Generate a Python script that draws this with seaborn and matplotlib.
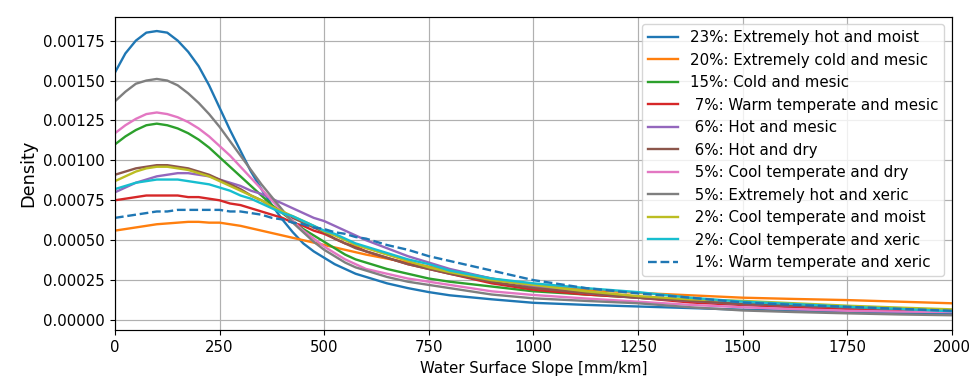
"""
Water surface slope density by climate class
"""

import pandas as pd
import seaborn as sns
import matplotlib.pyplot as plt

# Data

slope = [0, 25, 50, 75, 100, 125, 150, 175, 200, 225, 250, 275, 300, 325, 350, 375, 400,
         425, 450, 475, 500, 525, 550, 575, 600, 650, 700, 750, 800, 900, 1000,
         1125, 1250, 1375, 1500, 1625, 1750, 1875, 2000]

hot_moist = [.00155, .00167, .00175, .00180, .00181, .00180, .00175, .00168, .00159, .00147,
             .00133, .00119, .00106, .00093, .00082, .00072, .00063, .00055, .00048, .00043,
             .00039, .00035, .00032, .00029, .00027, .00023, .000200, .000175, .000155, .00013,
             .000108, .000095, .000085, .000075, .000065, .000057, .00005, .000045, .00004]
cold_mesic = [.00056, .00057, .00058, .00059, .0006, .000605, .00061, .000615, .000615, .00061,
              .00061, .0006, .00059, .000575, .00056, .000545, .00053, .000515, .0005, .000485,
              .00047, .000455, .00044, .000425, .00041, .000385, .00036, .000335, .00031, .00026,
              .00022, .00019, .00017, .000155, .00014, .000132, .000125, .000115, .000105]
cold_mesic2 = [.0011, .00115, .00119, .00122, .00123, .00122, .0012, .00117, .00113, .00108,
               .00102, .00096, .0009, .00084, .00078, .00072, .00067, .00062, .00057, .00053,
               .00049, .00045, .00041, .00038, .00036, .00032, .00029, .00026, .00024, .00021,
               .00018, .00016, .00014, .00012, .0001, .00009, .00008, .00007, .00006]
warm_mesic = [.00075, .00076, .00077, .00078, .00078, .00078, .00078, .00077, .00077, .00076,
              .00075, .00073, .00072, .0007, .00068, .00066, .00064, .00061, .00059, .00056,
              .00054, .00051, .00048, .00046, .00043, .00039, .00035, .00032, .00029, .00023,
              .00019, .00016, .00014, .00011, .000094, .00008, .00007, .00006, .00005]
hot_mesic = [.0008, .00083, .00086, .00088, .0009, .00091, .00092, .00092, .00091, .0009,
             .00088, .00086, .00084, .00081, .00079, .00076, .00073, .0007, .00067, .00064,
             .00062, .00059, .00056, .00053, .0005, .00045, .0004, .00036, .00032, .00026,
             .00021, .00017, .00014, .00012, .0001, .00009, .00008, .00007, .00006]
hot_dry = [.00091, .00093, .00095, .00096, .00097, .00097, .00096, .00095, .00093, .00091,
           .00088, .00085, .00082, .00078, .00075, .00071, .00068, .00064, .00061, .00058,
           .00055, .00051, .00048, .00045, .00043, .00039, .00035, .00032, .00029, .00024,
           .0002, .00017, .00014, .00012, .0001, .00009, .00008, .00007, .00006]
cool_dry = [.00117, .00122, .00126, .00129, .0013, .00129, .00127, .00124, .0012, .00115,
            .00109, .00103, .00096, .00089, .00082, .00075, .00068, .00062, .00056, .00051,
            .00046, .00042, .00038, .00035, .00032, .00029, .00026, .00024, .00022, .00018,
            .000157, .000135, .000115, .000095, .00008, .000068, .000058, .000053, .00005]
hot_xeric = [.00137, .00143, .00148, .0015, .00151, .0015, .00147, .00142, .00136, .00129,
             .00121, .00112, .00103, .00094, .00085, .00077, .00069, .00061, .00055, .00049,
             .00044, .0004, .00036, .00033, .00031, .00027, .00024, .00022, .0002, .00016,
             .000136, .00012, .000105, .00008, .00006, .00005, .000042, .000035, .00003]
cool_moist = [.00087, .0009, .00093, .00095, .00096, .00096, .00095, .00094, .00092, .0009,
              .00087, .00084, .00081, .00078, .00075, .00071, .00068, .00065, .00062, .00059,
              .000555, .00053, .0005, .00047, .00045, .00041, .00037, .00033, .0003, .00025,
              .00022, .00018, .00015, .00013, .00012, .000105, .00009, .000078, .000067]
cool_xeric = [.00082, .00084, .00086, .00087, .00088, .00088, .00088, .00087, .00086, .00085,
              .00083, .00081, .00078, .00076, .00073, .0007, .00067, .00065, .00062, .00059,
              .00056, .00054, .00051, .00048, .00046, .00042, .00038, .00035, .00031, .00026,
              .00023, .0002, .000175, .00014, .000115, .0001, .000083, .00007, .000055]
warm_xeric = [.00064, .00065, .00066, .00067, .00068, .00068, .00069, .00069, .00069, .00069,
              .00069, .00068, .00068, .00067, .00066, .00064, .00063, .00061, .0006, .00058,
              .00057, .00055, .00054, .00052, .00051, .00047, .00044, .0004, .00037, .00031,
              .00025, .0002, .000167, .00014, .00011, .000095, .000083, .00007, .000058]

percent = [23, 20, 15, 7, 6, 6, 5, 5, 2, 2, 1]
climate = ['Extremely hot and moist', 'Extremely cold and mesic', 'Cold and mesic',
           'Warm temperate and mesic', 'Hot and mesic', 'Hot and dry',
           'Cool temperate and dry', 'Extremely hot and xeric', 'Cool temperate and moist',
           'Cool temperate and xeric', 'Warm temperate and xeric']
curves = [hot_moist, cold_mesic, cold_mesic2, warm_mesic, hot_mesic, hot_dry,
          cool_dry, hot_xeric, cool_moist, cool_xeric, warm_xeric]

# Plot (reference looks rendered at ~107 dpi, so sizes scaled by 1.07)

plt.rcParams['xtick.major.size'] = 3.75
plt.rcParams['ytick.major.size'] = 3.75
plt.rcParams['axes.linewidth'] = 0.85

fig = plt.figure(figsize=(9.74, 3.79), dpi=100)
ax = fig.add_axes([0.118, 0.129, 0.8594, 0.827])
colours = sns.color_palette('tab10', 10)

for i, (p, name, dens) in enumerate(zip(percent, climate, curves)):
    df = pd.DataFrame({'Slope': slope, 'Density': dens})
    sns.lineplot(x='Slope', y='Density', data=df, ax=ax,
                 color=colours[i % 10], linewidth=1.7,
                 linestyle='--' if i >= 10 else '-',
                 label=f'{p:2d}%: {name}')

ax.set_xlim(0, 2000)
ax.set_ylim(-0.000063, 0.0019)
ax.set_yticks([0, 0.00025, 0.0005, 0.00075, 0.001, 0.00125, 0.0015, 0.00175])
ax.set_yticklabels(['0.00000', '0.00025', '0.00050', '0.00075', '0.00100',
                    '0.00125', '0.00150', '0.00175'])
ax.grid(True, color='#b0b0b0', linewidth=0.85)
ax.set_axisbelow(True)
ax.set_xlabel('Water Surface Slope [mm/km]', fontsize=10.8)
ax.set_ylabel('Density', fontsize=12.8)
ax.tick_params(labelsize=10.7)
ax.legend(loc='upper right', fontsize=10.8)

plt.savefig('out.png', dpi=100)
